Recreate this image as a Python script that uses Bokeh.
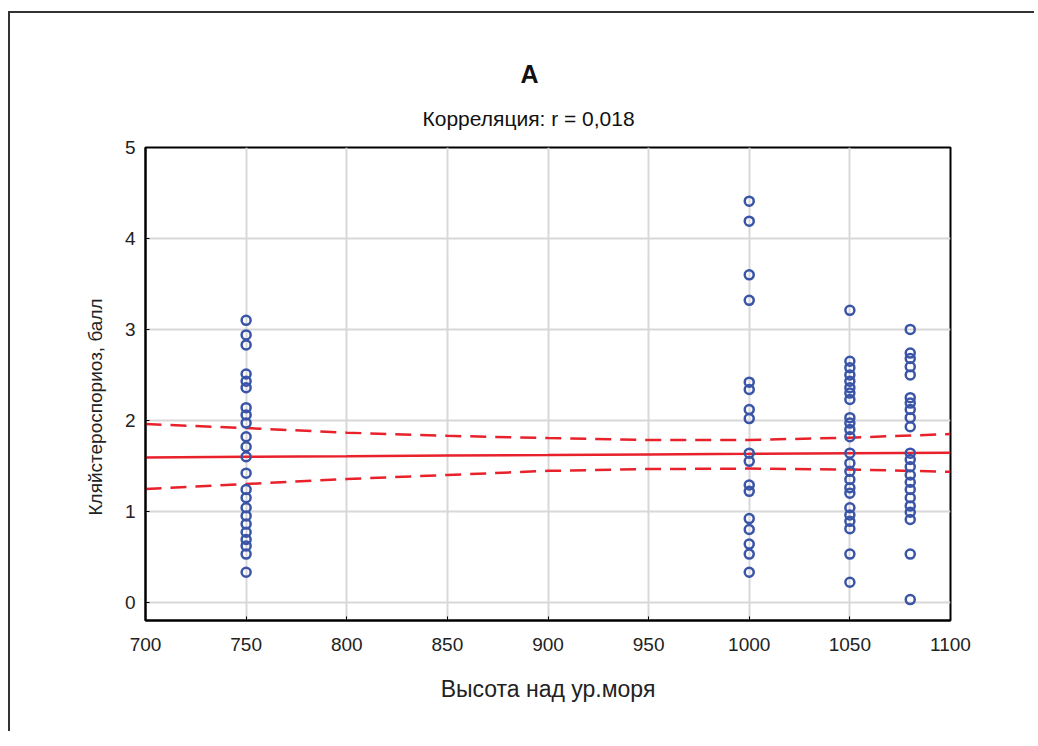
import numpy as np
from bokeh.plotting import figure
from bokeh.models import Title, Range1d, FixedTicker
from bokeh.embed import file_html
from bokeh.resources import INLINE

# Data
alt_750 = [3.10, 2.94, 2.83, 2.51, 2.43, 2.36, 2.14, 2.06, 1.97, 1.82, 1.71, 1.60,
           1.42, 1.24, 1.15, 1.04, 0.95, 0.86, 0.77, 0.69, 0.62, 0.53, 0.33]
alt_1000 = [4.41, 4.19, 3.60, 3.32, 2.42, 2.34, 2.12, 2.02, 1.64, 1.55, 1.29, 1.22,
            0.92, 0.80, 0.64, 0.53, 0.33]
alt_1050 = [3.21, 2.65, 2.58, 2.50, 2.43, 2.36, 2.30, 2.23, 2.03, 1.97, 1.90, 1.82,
            1.64, 1.53, 1.44, 1.35, 1.26, 1.20, 1.04, 0.96, 0.89, 0.81, 0.53, 0.22]
alt_1080 = [3.00, 2.74, 2.68, 2.59, 2.50, 2.25, 2.19, 2.12, 2.03, 1.93, 1.64, 1.57,
            1.49, 1.40, 1.32, 1.24, 1.15, 1.06, 0.99, 0.91, 0.53, 0.03]
altitudes = [750, 1000, 1050, 1080]

# Regression line and 95% confidence band
fit_x = [700, 750, 800, 850, 900, 950, 1000, 1050, 1100]
fit_mid = [1.593, 1.600, 1.606, 1.613, 1.619, 1.626, 1.632, 1.639, 1.645]
fit_upper = [1.96, 1.915, 1.865, 1.83, 1.805, 1.785, 1.785, 1.81, 1.85]
fit_lower = [1.245, 1.30, 1.355, 1.40, 1.445, 1.465, 1.47, 1.46, 1.435]

x_ticks = [700, 750, 800, 850, 900, 950, 1000, 1050, 1100]
y_ticks = [0, 1, 2, 3, 4, 5]

groups = [alt_750, alt_1000, alt_1050, alt_1080]
xs = np.concatenate([[a] * len(g) for a, g in zip(altitudes, groups)]).astype(float)
ys = np.concatenate(groups).astype(float)

FONT = "Liberation Sans"
RED = "#e8212b"

p = figure(width=1026, height=720, output_backend="svg", toolbar_location=None,
           x_range=Range1d(700, 1100), y_range=Range1d(-0.2, 5),
           min_border_left=135, min_border_right=86, min_border_top=134,
           min_border_bottom=113)
p.title = None
p.styles = {"border-top": "2px solid #333", "border-left": "2px solid #333",
            "margin-left": "8px", "margin-top": "11px"}

sub = Title(text="Корреляция: r = 0,018", align="left", text_font=FONT,
            text_font_size="21px", text_font_style="normal", text_color="#111111",
            standoff=35, offset=277)
main = Title(text="А", align="left", text_font=FONT, text_font_size="25px",
             text_font_style="bold", text_color="#111111", standoff=0, offset=375)
p.add_layout(sub, "above")
p.add_layout(main, "above")

p.outline_line_color = "black"
p.outline_line_width = 2
p.background_fill_color = "white"
p.border_fill_color = "white"

for ax in (p.xaxis[0], p.yaxis[0]):
    ax.axis_line_color = "black"
    ax.axis_line_width = 2
    ax.major_tick_in = 4
    ax.major_tick_out = 0
    ax.minor_tick_line_color = None
    ax.major_tick_line_color = "black"
    ax.major_tick_line_width = 1
    ax.major_label_text_font = FONT
    ax.major_label_text_font_size = "19px"
    ax.major_label_text_color = "#222222"
    ax.axis_label_text_font = FONT
    ax.axis_label_text_font_style = "normal"
    ax.axis_label_text_color = "#222222"

p.xaxis.ticker = FixedTicker(ticks=x_ticks)
p.yaxis.ticker = FixedTicker(ticks=y_ticks)
p.xaxis.axis_label = "Высота над ур.моря"
p.xaxis.axis_label_text_font_size = "23px"
p.xaxis.major_label_standoff = 17
p.xaxis.axis_label_standoff = 22
p.yaxis.major_label_standoff = 10

ytitle = Title(text="Кляйстероспориоз, балл", align="left", text_font=FONT,
               text_font_size="19px", text_font_style="normal",
               text_color="#222222", standoff=31, offset=105)
p.add_layout(ytitle, "left")

p.grid.grid_line_color = "#d8d8d8"
p.grid.grid_line_width = 2

p.line(fit_x, fit_mid, line_color=RED, line_width=2.5)
p.line(fit_x, fit_upper, line_color=RED, line_width=2.5, line_dash="16 9")
p.line(fit_x, fit_lower, line_color=RED, line_width=2.5, line_dash="16 9")

p.scatter(xs, ys, marker="circle", size=9, fill_color=None,
          line_color="#3a55a8", line_width=2.5)

open("out.html", "w").write(file_html(p, INLINE))
